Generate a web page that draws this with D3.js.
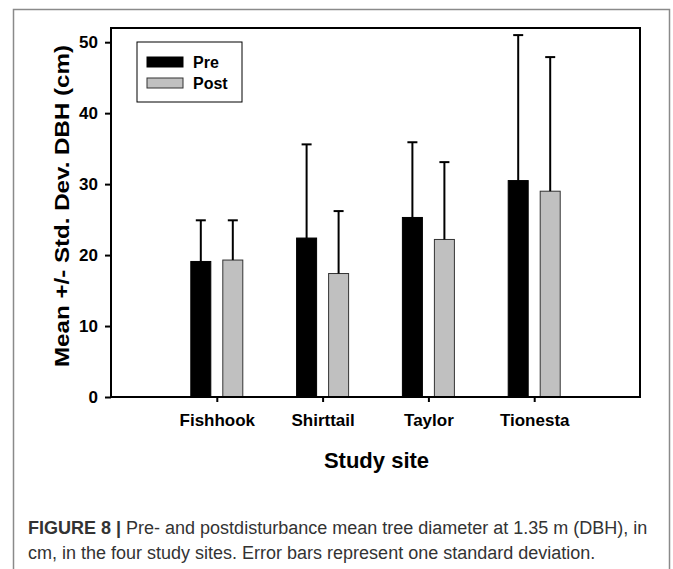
<!DOCTYPE html>
<html>
<head>
<meta charset="utf-8">
<script src="https://cdn.jsdelivr.net/npm/d3@7"></script>
<style>
  html, body { margin: 0; padding: 0; background: #fff; }
  svg { display: block; }
</style>
</head>
<body>
<svg id="chart" width="673" height="569"></svg>
<script>
// Study sites and mean DBH (cm) with one standard deviation
const sites = ["Fishhook", "Shirttail", "Taylor", "Tionesta"];
const preMean = [19.1, 22.4, 25.3, 30.5];
const preSD = [5.8, 13.2, 10.6, 20.5];
const postMean = [19.3, 17.4, 22.2, 29.0];
const postSD = [5.6, 8.8, 10.9, 18.9];
const seriesNames = ["Pre", "Post"];
const yTicks = [0, 10, 20, 30, 40, 50];

const series = [
  { name: seriesNames[0], mean: preMean, sd: preSD, fill: "#000000", stroke: "#000000" },
  { name: seriesNames[1], mean: postMean, sd: postSD, fill: "#c0c0c0", stroke: "#333333" }
];

const svg = d3.select("#chart");
const m = { left: 111, right: 640, top: 28, bottom: 397 };
const font = "Arial, 'Liberation Sans', Helvetica, sans-serif";

// outer figure frame
svg.append("rect")
  .attr("x", 13.5).attr("y", 9.5)
  .attr("width", 656).attr("height", 600)
  .attr("fill", "none").attr("stroke", "#8a8a8a").attr("stroke-width", 1.5);

// site positions on a 0..5 band so each site sits on an integer slot
const x = d3.scaleLinear().domain([0, sites.length + 1]).range([m.left, m.right]);
const y = d3.scaleLinear().domain([0, 52]).range([m.bottom, m.top]);

const barW = 20, gap = 12;
const offsets = [-(gap / 2 + barW), gap / 2];

// bars
series.forEach((s, si) => {
  const g = svg.append("g");
  g.selectAll("rect").data(sites).join("rect")
    .attr("x", (d, i) => x(i + 1) + offsets[si])
    .attr("y", (d, i) => y(s.mean[i]))
    .attr("width", barW)
    .attr("height", (d, i) => y(0) - y(s.mean[i]))
    .attr("fill", s.fill)
    .attr("stroke", s.stroke).attr("stroke-width", 1);

  // upper error bars
  const eb = svg.append("g").attr("stroke", "#000").attr("stroke-width", 2);
  sites.forEach((d, i) => {
    const cx = x(i + 1) + offsets[si] + barW / 2;
    eb.append("line")
      .attr("x1", cx).attr("x2", cx)
      .attr("y1", y(s.mean[i])).attr("y2", y(s.mean[i] + s.sd[i]));
    eb.append("line")
      .attr("x1", cx - 5).attr("x2", cx + 5)
      .attr("y1", y(s.mean[i] + s.sd[i])).attr("y2", y(s.mean[i] + s.sd[i]));
  });
});

// plot frame
svg.append("rect")
  .attr("x", m.left).attr("y", m.top)
  .attr("width", m.right - m.left).attr("height", m.bottom - m.top)
  .attr("fill", "none").attr("stroke", "#000").attr("stroke-width", 2);

// y axis
const yAxis = svg.append("g")
  .attr("transform", `translate(${m.left},0)`)
  .call(d3.axisLeft(y).tickValues(yTicks).tickSize(6).tickPadding(7));
yAxis.select(".domain").remove();
yAxis.selectAll(".tick line").attr("stroke-width", 2);
yAxis.selectAll(".tick text")
  .attr("font-family", font).attr("font-weight", "bold")
  .attr("font-size", 17).attr("fill", "#000");

// x axis
const xAxis = svg.append("g")
  .attr("transform", `translate(0,${m.bottom})`)
  .call(d3.axisBottom(x).tickValues(d3.range(1, sites.length + 1))
    .tickFormat(i => sites[i - 1]).tickSize(5).tickPadding(12));
xAxis.select(".domain").remove();
xAxis.selectAll(".tick line").attr("stroke-width", 2);
xAxis.selectAll(".tick text")
  .attr("font-family", font).attr("font-weight", "bold")
  .attr("font-size", 17).attr("fill", "#000");

// axis titles
svg.append("text")
  .attr("x", (m.left + m.right) / 2 + 1).attr("y", 468)
  .attr("text-anchor", "middle")
  .attr("font-family", font).attr("font-weight", "bold").attr("font-size", 22)
  .text("Study site");

svg.append("text")
  .attr("transform", `translate(69,${206}) rotate(-90) scale(1.15,1)`)
  .attr("text-anchor", "middle")
  .attr("font-family", font).attr("font-weight", "bold").attr("font-size", 21)
  .text("Mean +/- Std. Dev. DBH (cm)");

// legend
const lg = svg.append("g");
lg.append("rect")
  .attr("x", 137).attr("y", 42).attr("width", 105).attr("height", 60)
  .attr("fill", "#fff").attr("stroke", "#000").attr("stroke-width", 1);
series.forEach((s, si) => {
  lg.append("rect")
    .attr("x", 147).attr("y", 57 + si * 21).attr("width", 36).attr("height", 10)
    .attr("fill", s.fill).attr("stroke", s.stroke).attr("stroke-width", 1);
  lg.append("text")
    .attr("x", 193).attr("y", 68 + si * 21)
    .attr("font-family", font).attr("font-weight", "bold").attr("font-size", 16)
    .text(s.name);
});

// caption
const cap = svg.append("g")
  .attr("font-family", "'Liberation Sans', Arial, sans-serif")
  .attr("font-size", 18).attr("fill", "#333");
const l1 = cap.append("text").attr("x", 28).attr("y", 534);
l1.append("tspan").attr("font-weight", "bold").text("FIGURE 8 | ");
l1.append("tspan").text("Pre- and postdisturbance mean tree diameter at 1.35 m (DBH), in");
cap.append("text").attr("x", 28).attr("y", 559)
  .text("cm, in the four study sites. Error bars represent one standard deviation.");
</script>
</body>
</html>
